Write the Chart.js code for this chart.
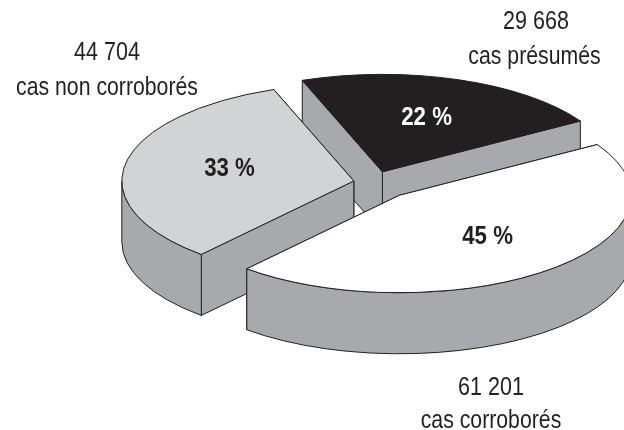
<!DOCTYPE html>
<html>
<head>
<meta charset="utf-8">
<style>html,body{margin:0;padding:0;background:#fff}canvas{display:block}</style>
<script src="https://cdn.jsdelivr.net/npm/chart.js@4"></script>
</head>
<body>
<canvas id="c" width="624" height="430"></canvas>
<script>
const categories = ["cas présumés", "cas corroborés", "cas non corroborés"];
const caseCounts = [29668, 61201, 44704];
const countLabels = ["29 668", "61 201", "44 704"];
const percentLabels = ["22 %", "45 %", "33 %"];

const INK = "#231f20";
const sliceColors = ["#231f20", "#ffffff", "#d1d3d4"];
const percentColors = ["#ffffff", INK, INK];
const WALL = "#a7a9ac";
const SQUASH = 0.42, DEPTH = 61;
const explode = [27, 40, 20];
const paintOrder = [0, 2, 1];
const percentRadius = [0.58, 0.59, 0.545];
const percentNudge = [0, -2, -2];
const FONT = '"Liberation Sans", sans-serif';
const outerLabelPos = [[536, 534.5, 22, 57], [491, 491, 388, 421], [107, 107, 53, 88]];

function slicePose(arc, i) {
  const mid = (arc.startAngle + arc.endAngle) / 2;
  return { mid, sx: arc.x + Math.cos(mid) * explode[i], sy: arc.y + Math.sin(mid) * explode[i] * SQUASH };
}

function narrowText(ctx, text, x, y, stretch) {
  ctx.save();
  ctx.translate(x, y);
  ctx.scale(stretch, 1);
  ctx.fillText(text, 0, 0);
  ctx.restore();
}

const pie3d = {
  id: "pie3d",
  beforeDatasetDraw(chart) {
    const ctx = chart.ctx;
    const arcs = chart.getDatasetMeta(0).data;
    ctx.save();
    ctx.lineWidth = 1;
    ctx.strokeStyle = INK;
    ctx.lineJoin = "round";
    const paint = (fill) => { ctx.fillStyle = fill; ctx.fill(); ctx.stroke(); };
    for (const i of paintOrder) {
      const arc = arcs[i];
      const { sx, sy } = slicePose(arc, i);
      const r = arc.outerRadius, ry = r * SQUASH;
      for (const a of [arc.endAngle, arc.startAngle]) {
        const px = sx + r * Math.cos(a), py = sy + ry * Math.sin(a);
        ctx.beginPath();
        ctx.moveTo(sx, sy); ctx.lineTo(px, py);
        ctx.lineTo(px, py + DEPTH); ctx.lineTo(sx, sy + DEPTH);
        ctx.closePath();
        paint(WALL);
      }
      const a0 = Math.max(arc.startAngle, 0), a1 = Math.min(arc.endAngle, Math.PI);
      if (a1 > a0) {
        ctx.beginPath();
        ctx.ellipse(sx, sy, r, ry, 0, a0, a1);
        ctx.ellipse(sx, sy + DEPTH, r, ry, 0, a1, a0, true);
        ctx.closePath();
        paint(WALL);
      }
      ctx.save();
      ctx.translate(sx, sy);
      ctx.scale(1, SQUASH);
      ctx.translate(-arc.x, -arc.y);
      arc.draw(ctx);
      ctx.restore();
      ctx.beginPath();
      ctx.moveTo(sx, sy);
      ctx.ellipse(sx, sy, r, ry, 0, arc.startAngle, arc.endAngle);
      ctx.closePath();
      ctx.stroke();
    }
    ctx.restore();
    return false;
  },
  afterDraw(chart) {
    const ctx = chart.ctx;
    const arcs = chart.getDatasetMeta(0).data;
    ctx.save();
    ctx.textAlign = "center";
    ctx.textBaseline = "middle";
    arcs.forEach((arc, i) => {
      const { mid, sx, sy } = slicePose(arc, i);
      const rr = arc.outerRadius * percentRadius[i];
      ctx.font = "bold 25px " + FONT;
      ctx.fillStyle = percentColors[i];
      narrowText(ctx, percentLabels[i], sx + rr * Math.cos(mid), sy + rr * SQUASH * Math.sin(mid) + percentNudge[i], 0.89);
      const [x1, x2, y1, y2] = outerLabelPos[i];
      ctx.font = "25px " + FONT;
      ctx.fillStyle = INK;
      narrowText(ctx, countLabels[i], x1, y1, 0.86);
      narrowText(ctx, categories[i], x2, y2, 0.85);
    });
    ctx.restore();
  }
};

new Chart(document.getElementById("c"), {
  type: "pie",
  data: {
    labels: categories,
    datasets: [{
      data: caseCounts,
      backgroundColor: sliceColors,
      borderWidth: 0,
      radius: 232
    }]
  },
  options: {
    responsive: false,
    animation: false,
    rotation: -20.2,
    layout: { padding: { left: 123, bottom: 65 } },
    events: [],
    plugins: { legend: { display: false }, tooltip: { enabled: false } }
  },
  plugins: [pie3d]
});
</script>
</body>
</html>
